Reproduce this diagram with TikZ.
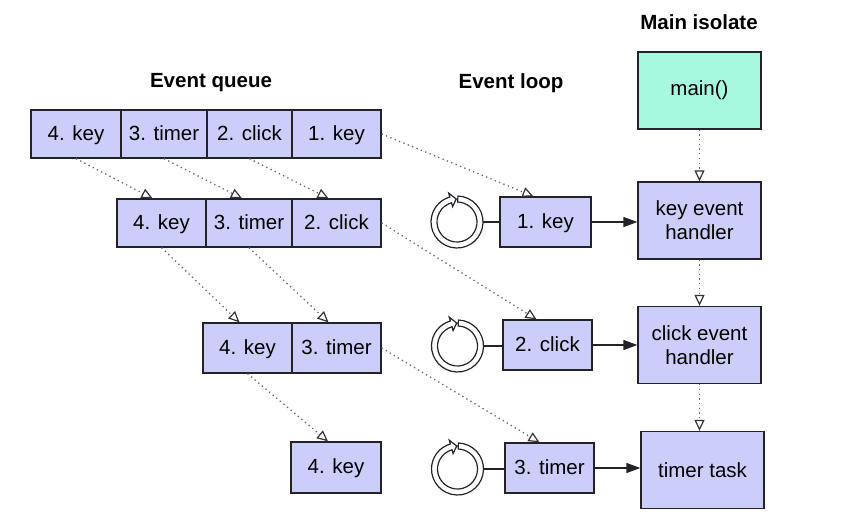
\documentclass[tikz,border=0pt]{standalone}
\usepackage{fontspec}
\setmainfont{Liberation Sans}
\usetikzlibrary{arrows.meta,calc}
\definecolor{lav}{RGB}{204,206,250}
\definecolor{mint}{RGB}{166,249,222}
\definecolor{edge}{RGB}{34,34,40}
\newcommand{\loopicon}[3]{%
  \node[circle, minimum size=52pt, inner sep=0pt] (#1) at (#2,#3) {};
  \begin{scope}[shift={(#1.center)}, x=1pt, y=1pt]
    \draw[line width=1.2pt, fill=white, draw=edge]
      (88:26) arc[start angle=88, end angle=-254, radius=26]
      -- (106:30) -- (92:23) -- (106:16) -- (106:20)
      arc[start angle=106, end angle=448, radius=20] -- cycle;
  \end{scope}}
\begin{document}
\begin{tikzpicture}[x=1pt,y=-1pt,
  txt/.style={font=\fontsize{20.5}{24}\selectfont, text height=15pt, text depth=3pt},
  cell/.style={txt, draw=edge, line width=1.3pt, fill=lav, inner sep=0pt, minimum height=48pt},
  lbox/.style={cell, minimum width=90pt, minimum height=50pt},
  hbox/.style={cell, minimum width=123pt, minimum height=77pt, align=center, text height=, text depth=},
  title/.style={font=\fontsize{20.5}{24}\selectfont\bfseries},
  flow/.style={line width=1.4pt, draw=edge, -{Triangle[length=14pt,width=10pt]}},
  pass/.style={line width=1.3pt, draw=black!60, dash pattern=on 1.3pt off 3.4pt,
    -{Triangle[open, length=11pt, width=10pt, color=black!80, line width=1.2pt]}},
  link/.style={line width=1.3pt, draw=edge}
]
\useasboundingbox (0,0) rectangle (864,516);

% titles
\node[title] (tq) at (211,83) {Event queue};
\node[title] (tl) at (511,83) {Event loop};
\node[title] (tm) at (699,22) {Main isolate};

% queue row 1
\node[cell, minimum width=90pt] (a4) at (76,134) {4. key};
\node[cell, minimum width=86pt] (a3) at (164,134) {3. timer};
\node[cell, minimum width=85pt] (a2) at (249.5,134) {2. click};
\node[cell, minimum width=89pt] (a1) at (336.5,134) {1. key};
% queue row 2
\node[cell, minimum width=89pt] (b4) at (161.5,223) {4. key};
\node[cell, minimum width=86pt] (b3) at (249,223) {3. timer};
\node[cell, minimum width=89pt] (b2) at (336.5,223) {2. click};
% queue row 3
\node[cell, minimum width=89pt, minimum height=50pt] (c4) at (247.5,348) {4. key};
\node[cell, minimum width=89pt, minimum height=50pt] (c3) at (336.5,348) {3. timer};
% queue row 4
\node[cell, minimum width=90pt, minimum height=51pt] (d4) at (336,467.5) {4. key};

% event loop
\node[lbox, minimum width=91pt] (l1) at (545.5,222) {1. key};
\node[lbox, minimum width=89pt] (l2) at (547.5,345) {2. click};
\node[lbox, minimum width=89pt] (l3) at (549.5,468) {3. timer};
\loopicon{r1}{457}{222}
\loopicon{r2}{457.5}{346}
\loopicon{r3}{457.5}{469}
\draw[link] (r1.east) -- (l1.west);
\draw[link] (r2.east) -- (r2.east -| l2.west);
\draw[link] (r3.east) -- (r3.east -| l3.west);

% main isolate
\node[hbox, fill=mint] (m) at (699.5,90.5) {main()};
\node[hbox] (hk) at (699.5,220.5) {key event\\handler};
\node[hbox] (hc) at (699.5,345) {click event\\handler};
\node[hbox] (ht) at (702.5,470) {timer task};

% flows
\draw[flow] (l1.east) -- (l1.east -| hk.west);
\draw[flow] (l2.east) -- (l2.east -| hc.west);
\draw[flow] (l3.east) -- (l3.east -| ht.west);

% queue passing
\draw[pass] (a4.south) -- ($(b4.north)+(-9,0)$);
\draw[pass] (a3.south) -- ($(b3.north)+(-7,0)$);
\draw[pass] (a2.south) -- ($(b2.north)+(-8,0)$);
\draw[pass] (b4.south) -- ($(c4.north)+(-8,0)$);
\draw[pass] (b3.south) -- ($(c3.north)+(-8,0)$);
\draw[pass] (c4.south) -- ($(d4.north)+(-8,0)$);
\draw[pass] (a1.east) -- ($(l1.north)+(-12,0)$);
\draw[pass] (b2.east) -- ($(l2.north)+(-11,0)$);
\draw[pass] (c3.east) -- ($(l3.north)+(-10,0)$);

% handler chain
\draw[pass] (m.south) -- (hk.north);
\draw[pass] (hk.south) -- (hc.north);
\draw[pass] (hc.south) -- (hc.south |- ht.north);
\end{tikzpicture}
\end{document}
